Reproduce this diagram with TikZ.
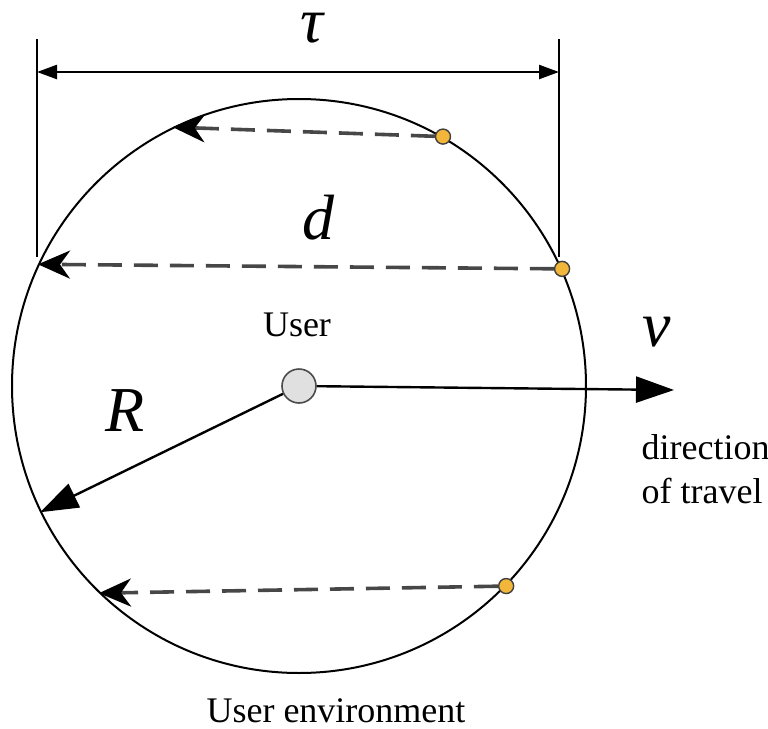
\documentclass[tikz,border=0pt]{standalone}
\usepackage{fontspec}
\setmainfont{Liberation Serif}
\usetikzlibrary{arrows.meta}
\definecolor{dotyellow}{HTML}{F2B73A}

\begin{document}
\begin{tikzpicture}[x=0.5pt, y=-0.5pt, >={Triangle[length=10pt, width=7pt]}, line width=1pt,
    dot/.style={circle, draw=black!75, fill=dotyellow, line width=0.7pt, minimum size=7.5pt, inner sep=0pt},
    chord/.style={dash pattern=on 12pt off 6pt, draw=black!72, line width=1.8pt, -{Stealth[length=16pt, width=14pt, inset=5pt, black]}},
    bigarrow/.style={line width=1.2pt, -{Triangle[length=19pt, width=13pt]}},
    sym/.style={font=\fontsize{32}{32}\selectfont\itshape, inner sep=0pt},
    lbl/.style={font=\fontsize{18}{22}\selectfont}]

        \useasboundingbox (0,0) rectangle (768,729);

        % Vung moi truong nguoi dung
        \node[circle, draw, line width=1pt, minimum size=287pt, inner sep=0pt] (env) at (299,386) {};
        \node[lbl] (envlbl) at (336,711) {User environment};

        % Nguoi dung
        \node[circle, draw=black!70, fill=black!12, line width=0.8pt, minimum size=17pt, inner sep=0pt] (user) at (299,386) {};
        \node[lbl] (userlbl) at (297,325) {User};

        % Cac diem tren bien
        \node[dot] (p1) at (env.60) {};
        \node[dot] (p2) at (env.24) {};
        \node[dot] (p3) at (env.-44) {};

        % Day cung net dut
        \draw[chord] (p1) -- (env.116);
        \draw[chord] (p2) -- (env.155);
        \draw[chord] (p3) -- (env.226);
        \node[sym] (d) at (318,218) {d};

        % Kich thuoc tau
        \coordinate (la) at (37,39);
        \coordinate (lb) at (37,257);
        \coordinate (ra) at (559,39);
        \coordinate (rb) at (559,257);
        \coordinate (lm) at (37,72);
        \coordinate (rm) at (559,72);
        \draw[line width=1.2pt] (la) -- (lb);
        \draw[line width=1.2pt] (ra) -- (rb);
        \draw[<->, line width=1.2pt] (lm) -- (rm);
        \node[sym] (tau) at (312,28) {τ};

        % Ban kinh R
        \draw[bigarrow] (user) -- (env.206);
        \node[sym] (r) at (125,411) {R};

        % Huong di chuyen
        \coordinate (vend) at (674,390);
        \draw[bigarrow] (user) -- (vend);
        \node[sym] (v) at (657,332) {v};
        \node[lbl, align=left, anchor=west] (travel) at (634,469) {direction\\of travel};

    \end{tikzpicture}
\end{document}
